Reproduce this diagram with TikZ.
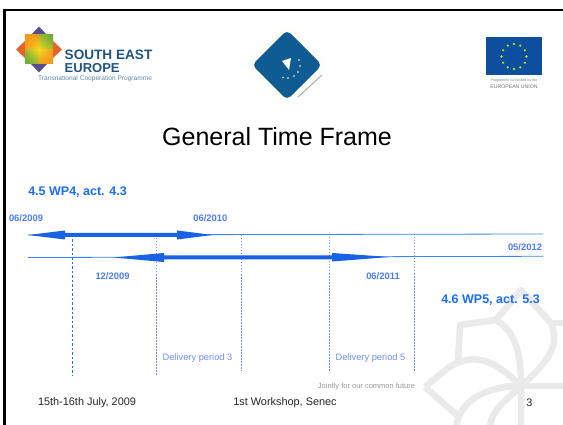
\documentclass[tikz,border=0pt]{standalone}
\usepackage{fontspec}
\usetikzlibrary{shadings}
\setmainfont{Liberation Sans}
\definecolor{tblue}{HTML}{1A6DFF}
\definecolor{lblue}{HTML}{4D7DFF}
\definecolor{dblue}{HTML}{6F8FFF}
\definecolor{seeblue}{HTML}{1F5585}
\definecolor{wm}{HTML}{EAEAEA}
\definecolor{logoblue}{HTML}{0F5C92}
\definecolor{flagblue}{HTML}{0E4E9E}
\definecolor{seegreen}{HTML}{5FA63C}
\definecolor{seeorange}{HTML}{F39A1E}
\definecolor{seeyellow}{HTML}{F7D91E}
\definecolor{seepurple}{HTML}{56508F}
\definecolor{seered}{HTML}{E8622A}
\tikzset{
  px/.style={x=1pt,y=-1pt},
  lab/.style={inner sep=0pt,anchor=center,font=\fontsize{9.4}{10}\selectfont\bfseries,text=lblue},
  head/.style={inner sep=0pt,anchor=center,font=\fontsize{12.5}{13}\selectfont\bfseries,text=tblue},
  deliv/.style={inner sep=0pt,anchor=center,font=\fontsize{9.3}{10}\selectfont,text=dblue},
  foot/.style={inner sep=0pt,anchor=center,font=\fontsize{10.9}{12}\selectfont,text=black!85},
  tl/.style={draw=tblue!85,line width=0.8pt},
  dv/.style={draw=dblue,line width=1pt,dash pattern=on 1.5pt off 1.5pt},
  dvt/.style={draw=tblue,line width=0.6pt,dash pattern=on 2.5pt off 2pt},
  arr/.style={fill=tblue!90!black,draw=none},
  wmk/.style={draw=wm,line width=6.5pt,line join=round}
}
\begin{document}
\begin{tikzpicture}[px]
\useasboundingbox (0,0) rectangle (563,425);
\fill[white] (0,0) rectangle (563,425);
% frame
\fill[black] (3,9) rectangle (563,11.5);
\fill[black] (3,9) rectangle (5.5,425);
% watermark
\begin{scope}
\clip (0,0) rectangle (563,425);
\draw[wmk] (425,387) -- (458,416) (425,387) -- (448,368) .. controls (475,350) and (497,362) .. (521,386);
\draw[wmk] (458,362) -- (460,325) -- (496,320) .. controls (512,330) and (521,345) .. (521,386) -- (521,430);
\draw[wmk] (496,320) -- (521,290) -- (551,323) .. controls (560,345) and (550,360) .. (521,386);
\draw[wmk] (551,323) -- (570,323);
\draw[wmk] (521,386) .. controls (490,386) and (458,398) .. (456,430);
\draw[wmk] (521,386) .. controls (505,402) and (490,410) .. (490,430);
\draw[wmk] (505,386) -- (570,386);
\end{scope}
% SEE logo
\fill[seepurple] (39,26.5) -- (48,36) -- (30,36) -- cycle;
\fill[seepurple] (39,72.5) -- (48,63) -- (30,63) -- cycle;
\fill[seered] (16,49.5) -- (26,40) -- (26,59) -- cycle;
\fill[seered] (62,49.5) -- (52,40) -- (52,59) -- cycle;
\shade[upper left=seeorange,upper right=seeorange,lower left=seeorange,lower right=seeyellow] (25,35) rectangle (39,49.5);
\shade[upper left=seegreen!60!seeyellow,upper right=seegreen,lower left=seeyellow,lower right=seegreen!60!seeyellow] (39,35) rectangle (53,49.5);
\shade[upper left=seegreen!60!seeyellow,upper right=seeyellow,lower left=seegreen,lower right=seegreen!60!seeyellow] (25,49.5) rectangle (39,64);
\shade[upper left=seeyellow,upper right=seeorange,lower left=seeorange,lower right=seeorange] (39,49.5) rectangle (53,64);
\node[inner sep=0pt,anchor=west,font=\fontsize{13.6}{14}\selectfont\bfseries,text=seeblue] (t1) at (64.5,54.5) {SOUTH EAST};
\node[inner sep=0pt,anchor=west,font=\fontsize{13}{14}\selectfont\bfseries,text=seeblue] (t2) at (64.5,68) {EUROPE};
\node[inner sep=0pt,anchor=west,font=\fontsize{6.6}{7}\selectfont,text=seeblue!70] (t3) at (38,78.5) {Transnational Cooperation Programme};
% middle logo
\draw[yellow!6,line width=2pt,rounded corners=5pt] (287,27) -- (326,65) -- (287,103) -- (248,65) -- cycle;
\fill[logoblue,rounded corners=5pt] (287,30) -- (322,65) -- (287,100) -- (252,65) -- cycle;
\fill[white] (282,61) -- (291,58) -- (289,70) -- cycle;
\foreach \p in {(299,60),(300,66),(298,72),(294,76),(288,78),(283,77.5)} \fill[white] \p circle (0.8);
\draw[black!30,line width=1.1pt] (298,97) -- (322,75);
% EU flag
\fill[flagblue] (486,37.5) rectangle (542,75);
\foreach \a in {0,30,...,330} \fill[yellow!70!green] (514,56.5) ++(\a:12.5) circle (1.3);
\node[inner sep=0pt,font=\fontsize{3.6}{4}\selectfont,text=black!50] (eu1) at (514,81) {Programme co-funded by the};
\node[inner sep=0pt,font=\fontsize{5.2}{6}\selectfont,text=black!55] (eu2) at (514,86.5) {EUROPEAN UNION};
% title
\node[inner sep=0pt,font=\fontsize{25}{28}\selectfont,text=black] (title) at (277,137) {General Time Frame};
% delivery guides
\coordinate (g1a) at (72.5,235); \coordinate (g1b) at (72.5,375.5);
\coordinate (g2a) at (156.5,235); \coordinate (g2b) at (156.5,375.5);
\coordinate (g3a) at (241,235); \coordinate (g3b) at (241,371);
\coordinate (g4a) at (329.7,234); \coordinate (g4b) at (329.7,371);
\coordinate (g5a) at (414,234); \coordinate (g5b) at (414,371);
\draw[dvt] (g1a) -- (g1b);
\draw[dv] (g2a) -- (g2b);
\draw[dv] (g3a) -- (g3b);
\draw[dv] (g4a) -- (g4b);
\draw[dv] (g5a) -- (g5b);
% timelines
\coordinate (u1) at (28,235); \coordinate (u2) at (543,234);
\coordinate (l1) at (28,257.5); \coordinate (l2) at (543,256.3);
\draw[tl] (u1) -- (u2);
\draw[tl] (l1) -- (l2);
% thick arrows
\fill[arr] (u1) -- (65,230.5) -- (65,233) -- (177,233) -- (177,230.5) -- (213,235) -- (177,239.5) -- (177,237) -- (65,237) -- (65,239.5) -- cycle;
\fill[arr] (113,257.5) -- (164,253) -- (164,255.5) -- (332,255.5) -- (332,253) -- (390,257) -- (332,261.5) -- (332,259.5) -- (164,259.5) -- (164,262) -- cycle;
% labels
\node[head] (wp4) at (77.5,192) {4.5 WP4, act. 4.3};
\node[head] (wp5) at (490.5,300) {4.6 WP5, act. 5.3};
\node[lab] (d1) at (26,218) {06/2009};
\node[lab] (d2) at (210.3,218) {06/2010};
\node[lab] (d3) at (112.5,276) {12/2009};
\node[lab] (d4) at (383,276) {06/2011};
\node[lab] (d5) at (525,247) {05/2012};
\node[deliv] (p3) at (197.5,358) {Delivery period 3};
\node[deliv] (p5) at (370.5,358) {Delivery period 5};
% footer
\node[inner sep=0pt,font=\fontsize{7.5}{8}\selectfont,text=black!40] (joint) at (366.5,387) {Jointly for our common future};
\node[foot] (f1) at (87,403) {15th-16th July, 2009};
\node[foot] (f2) at (285,403) {1st Workshop, Senec};
\node[foot] (f3) at (529.5,403) {3};
\end{tikzpicture}
\end{document}
